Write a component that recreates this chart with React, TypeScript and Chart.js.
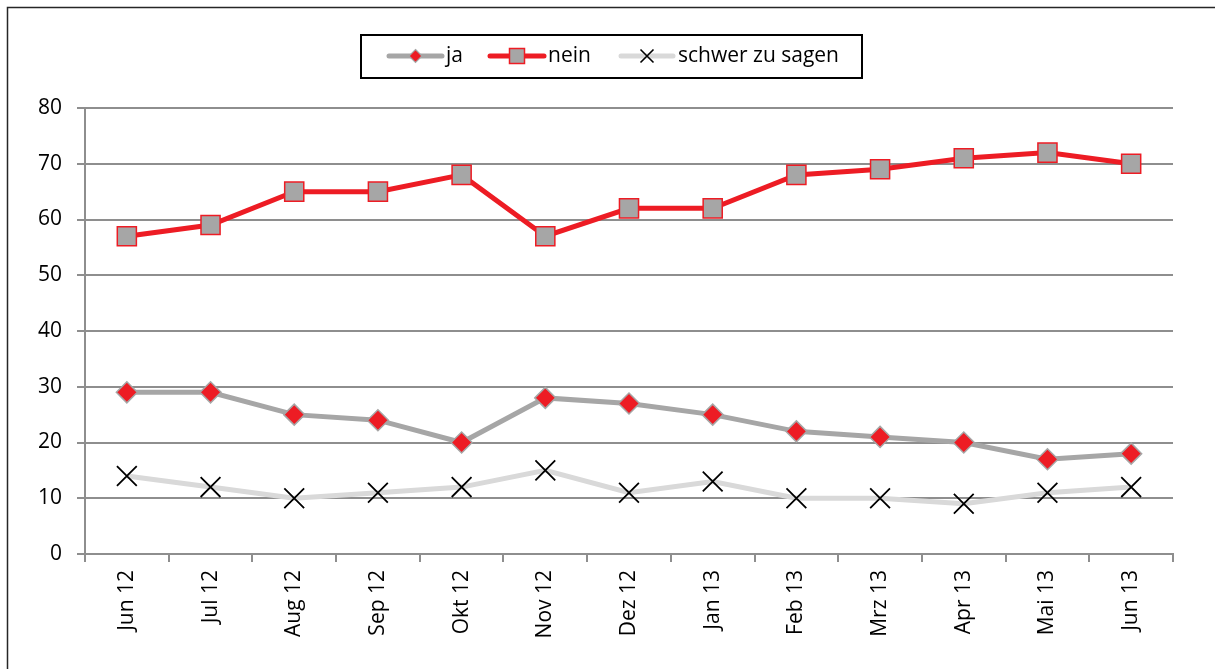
import { useEffect, useRef } from "react";
import { Chart, registerables } from "chart.js";

Chart.register(...registerables);

const categories = [
  "Jun 12", "Jul 12", "Aug 12", "Sep 12", "Okt 12", "Nov 12", "Dez 12",
  "Jan 13", "Feb 13", "Mrz 13", "Apr 13", "Mai 13", "Jun 13",
];
const seriesLabels = ["ja", "nein", "schwer zu sagen"];
const jaValues = [29, 29, 25, 24, 20, 28, 27, 25, 22, 21, 20, 17, 18];
const neinValues = [57, 59, 65, 65, 68, 57, 62, 62, 68, 69, 71, 72, 70];
const schwerValues = [14, 12, 10, 11, 12, 15, 11, 13, 10, 10, 9, 11, 12];
const yMin = 0;
const yMax = 80;
const yStep = 10;

const FONT = '"Open Sans", "Noto Sans", sans-serif';
const RED = "#ed1c24";
const GRAY = "#a6a6a6";
const LIGHT = "#d9d9d9";
const AXIS = "#8e8e8e";

const frameLegendPlugin = {
  id: "frameLegend",
  afterDraw(chart: any) {
    const ctx: CanvasRenderingContext2D = chart.ctx;
    ctx.save();
    ctx.strokeStyle = "#262626";
    ctx.lineWidth = 1.5;
    ctx.beginPath();
    ctx.moveTo(7.5, 669);
    ctx.lineTo(7.5, 7.5);
    ctx.lineTo(1215, 7.5);
    ctx.stroke();

    ctx.lineWidth = 2;
    ctx.strokeStyle = "#000";
    ctx.strokeRect(361, 35, 501, 43);

    const items = [
      { x0: 389, x1: 442, tx: 446 },
      { x0: 490, x1: 544, tx: 548 },
      { x0: 621, x1: 673, tx: 678 },
    ];
    const y = 56;
    chart.data.datasets.forEach((ds: any, i: number) => {
      const it = items[i];
      ctx.lineCap = "round";
      ctx.strokeStyle = ds.borderColor;
      ctx.lineWidth = 5;
      ctx.beginPath();
      ctx.moveTo(it.x0, y);
      ctx.lineTo(it.x1, y);
      ctx.stroke();
      ctx.lineCap = "butt";
      const cx = (it.x0 + it.x1) / 2;
      if (i === 0) {
        const r = 6.5;
        ctx.beginPath();
        ctx.moveTo(cx, y - r);
        ctx.lineTo(cx + r, y);
        ctx.lineTo(cx, y + r);
        ctx.lineTo(cx - r, y);
        ctx.closePath();
        ctx.fillStyle = ds.pointBackgroundColor;
        ctx.fill();
        ctx.strokeStyle = ds.pointBorderColor;
        ctx.lineWidth = 1.2;
        ctx.stroke();
      } else if (i === 1) {
        const s = 15;
        ctx.fillStyle = ds.pointBackgroundColor;
        ctx.fillRect(cx - s / 2, y - s / 2, s, s);
        ctx.strokeStyle = ds.pointBorderColor;
        ctx.lineWidth = 1.5;
        ctx.strokeRect(cx - s / 2, y - s / 2, s, s);
      } else {
        const h = 6.5;
        ctx.strokeStyle = "#000";
        ctx.lineWidth = 1.6;
        ctx.beginPath();
        ctx.moveTo(cx - h, y - h);
        ctx.lineTo(cx + h, y + h);
        ctx.moveTo(cx + h, y - h);
        ctx.lineTo(cx - h, y + h);
        ctx.stroke();
      }
      ctx.fillStyle = "#000";
      ctx.font = `21px ${FONT}`;
      ctx.textBaseline = "middle";
      ctx.textAlign = "left";
      ctx.fillText(ds.label, it.tx, y);
    });
    ctx.restore();
  },
};

export default function App() {
  const ref = useRef<HTMLCanvasElement | null>(null);

  useEffect(() => {
    document.body.style.margin = "0";
    const canvas = ref.current;
    if (!canvas) return;
    const chart = new Chart(canvas, {
      type: "line",
      data: {
        labels: categories,
        datasets: [
          {
            label: seriesLabels[0],
            data: jaValues,
            borderColor: GRAY,
            borderWidth: 5,
            pointStyle: "rectRot",
            pointRadius: 10.5,
            pointBackgroundColor: RED,
            pointBorderColor: GRAY,
            pointBorderWidth: 1.5,
            tension: 0,
          },
          {
            label: seriesLabels[1],
            data: neinValues,
            borderColor: RED,
            borderWidth: 5,
            pointStyle: "rect",
            pointRadius: 13.5,
            pointBackgroundColor: GRAY,
            pointBorderColor: RED,
            pointBorderWidth: 1.5,
            tension: 0,
          },
          {
            label: seriesLabels[2],
            data: schwerValues,
            borderColor: LIGHT,
            borderWidth: 5,
            pointStyle: "crossRot",
            pointRadius: 14,
            pointBackgroundColor: "#000",
            pointBorderColor: "#000",
            pointBorderWidth: 1.8,
            tension: 0,
          },
        ],
      },
      options: {
        responsive: false,
        animation: false,
        layout: { padding: { top: 108, right: 42, left: 0, bottom: 0 } },
        plugins: {
          legend: { display: false },
          tooltip: { enabled: false },
        },
        scales: {
          x: {
            type: "category",
            offset: true,
            grid: {
              offset: true,
              drawOnChartArea: false,
              drawTicks: true,
              tickLength: 8,
              color: AXIS,
              lineWidth: 2,
            },
            border: { color: AXIS, width: 2 },
            ticks: {
              maxRotation: 90,
              minRotation: 90,
              padding: 8,
              color: "#000",
              font: { family: FONT, size: 21 },
            },
            afterFit(scale: any) {
              scale.height = 115;
            },
          },
          y: {
            min: yMin,
            max: yMax,
            ticks: {
              stepSize: yStep,
              padding: 15,
              color: "#000",
              font: { family: FONT, size: 21 },
            },
            grid: {
              color: AXIS,
              lineWidth: 2,
              drawTicks: true,
              tickLength: 8,
            },
            border: { color: AXIS, width: 2 },
            afterFit(scale: any) {
              scale.width = 85;
            },
          },
        },
      },
      plugins: [frameLegendPlugin],
    });
    return () => chart.destroy();
  }, []);

  return (
    <canvas
      ref={ref}
      width={1215}
      height={669}
      style={{ display: "block", width: 1215, height: 669 }}
    />
  );
}
